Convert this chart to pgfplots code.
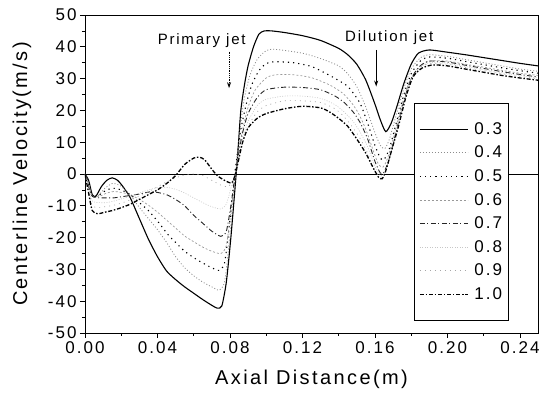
\documentclass[border=0pt]{standalone}
\usepackage{fontspec}
\setmainfont{Liberation Sans}[LetterSpace=12]
\usepackage{pgfplots}
\pgfplotsset{compat=1.18}
\usetikzlibrary{arrows.meta}

\begin{document}
\begin{tikzpicture}
\begin{axis}[
  name=ax,
  scale only axis,
  width=453pt, height=318pt,
  xmin=0, xmax=0.25, ymin=-50, ymax=50,
  xtick={0,0.04,...,0.24}, ytick={-50,-40,...,50},
  minor x tick num=1, minor y tick num=1,
  tick align=outside, tick pos=left,
  major tick length=5pt, minor tick length=3pt,
  axis line style={black, line width=0.8pt},
  every tick/.style={black, line width=0.7pt},
  /pgf/number format/assume math mode=true,
  ticklabel style={font=\fontsize{17}{18}\selectfont},
  xticklabel style={/pgf/number format/.cd, fixed, fixed zerofill, precision=2},
  yticklabel style={/pgf/number format/.cd, fixed, int detect},
  scaled x ticks=false,
  xlabel={Axial Distance(m)},
  ylabel={Centerline Velocity(m/s)},
  every axis x label/.style={at={(axis description cs:0.5,-0.145)}, anchor=center,
    font=\fontsize{20}{22}\selectfont},
  every axis y label/.style={at={(axis description cs:-0.139,0.5)}, rotate=90, anchor=center,
    font=\fontsize{20}{22}\selectfont},
  legend style={at={(axis description cs:0.726,0.723)}, anchor=north west,
    draw=black, line width=0.6pt, fill=white, inner xsep=5pt, inner ysep=14pt,
    font=\fontsize{17}{18}\selectfont,
    nodes={minimum height=23.6pt, inner sep=1pt}},
  legend cell align=left,
  legend image code/.code={\draw[#1] (0pt,0pt) -- (48pt,0pt); \path (53pt,0pt);},
]

% zero line
\addplot[black, line width=0.7pt, forget plot] coordinates {(0,0) (0.25,0)};

% 0.3
\addplot[black, line width=1.1pt, smooth, tension=0.4] coordinates {
(0,0) (0.002,-2) (0.004,-6.5) (0.006,-7) (0.009,-4) (0.012,-2) (0.015,-1.2)
(0.018,-2) (0.021,-4) (0.025,-7.5) (0.03,-14) (0.035,-20.5) (0.04,-26)
(0.045,-30.5) (0.05,-33.2) (0.055,-35.5) (0.06,-37.5) (0.065,-39.5) (0.07,-41.3)
(0.073,-42.2) (0.0755,-41.5) (0.078,-34) (0.0805,-20) (0.083,-3) (0.0845,8)
(0.086,20) (0.088,28) (0.09,34) (0.093,40) (0.096,44) (0.099,45) (0.103,45)
(0.11,44.5) (0.12,43.5) (0.13,42) (0.14,39.5) (0.145,37.5) (0.15,34.5)
(0.155,29.5) (0.16,22) (0.163,17) (0.166,13.3) (0.169,16) (0.172,21)
(0.176,28.5) (0.18,34.5) (0.184,38) (0.19,39) (0.2,38.3) (0.21,37.5)
(0.22,36.6) (0.23,35.7) (0.24,34.8) (0.25,34)};
\addlegendentry{0.3}

% 0.4
\addplot[black!45, line width=0.8pt, dash pattern=on 1pt off 2pt, smooth, tension=0.4] coordinates {
(0,0) (0.002,-3) (0.004,-7) (0.007,-7) (0.011,-4.5) (0.015,-3) (0.019,-3.5)
(0.024,-6) (0.03,-10.5) (0.035,-14) (0.04,-17.5) (0.045,-21.5) (0.05,-26)
(0.055,-29.5) (0.06,-32) (0.065,-34) (0.07,-35.5) (0.074,-36.5) (0.077,-34)
(0.0795,-22) (0.082,-6) (0.084,5) (0.086,16) (0.088,24) (0.091,31) (0.095,36)
(0.1,38.8) (0.105,39.2) (0.12,38) (0.13,36.3) (0.14,34) (0.145,31.5)
(0.15,27.5) (0.155,21) (0.16,13) (0.163,9) (0.1655,8) (0.168,11) (0.172,19)
(0.176,27) (0.18,33) (0.185,36.5) (0.19,37.5) (0.2,37) (0.21,36) (0.22,35)
(0.23,34) (0.24,33) (0.25,32.3)};
\addlegendentry{0.4}

% 0.5
\addplot[black, line width=1.1pt, dash pattern=on 1.2pt off 4pt, smooth, tension=0.4] coordinates {
(0,0) (0.002,-3) (0.004,-7) (0.008,-6.5) (0.012,-5) (0.016,-4.5) (0.02,-5)
(0.025,-6.5) (0.03,-9) (0.035,-11.5) (0.04,-14.8) (0.046,-19.2) (0.05,-21.5)
(0.055,-24.3) (0.06,-26.3) (0.065,-28) (0.07,-29.5) (0.074,-30.3) (0.077,-28)
(0.0795,-17) (0.082,-3) (0.084,6) (0.086,14) (0.089,22) (0.092,28) (0.096,32.5)
(0.1,34.7) (0.105,35.3) (0.115,35) (0.125,33.8) (0.135,31) (0.144,28)
(0.148,25.5) (0.152,22) (0.156,16) (0.16,9) (0.163,5) (0.165,4.5) (0.168,8)
(0.172,16.5) (0.176,25) (0.18,31.5) (0.185,35.5) (0.19,36.8) (0.2,36.4)
(0.21,35.4) (0.22,34.4) (0.23,33.4) (0.24,32.5) (0.25,31.7)};
\addlegendentry{0.5}

% 0.6
\addplot[black!40, line width=0.7pt, dash pattern=on 2pt off 2pt, smooth, tension=0.4] coordinates {
(0,0) (0.002,-3) (0.004,-7) (0.008,-7) (0.012,-6) (0.016,-5.5) (0.02,-5.8)
(0.025,-6.5) (0.03,-8) (0.035,-9.8) (0.04,-12) (0.045,-14.5) (0.05,-17)
(0.055,-19.5) (0.06,-21.3) (0.065,-23) (0.07,-24.3) (0.075,-25) (0.078,-22.5)
(0.0805,-12) (0.083,0) (0.085,8) (0.087,14) (0.09,21) (0.094,26.5) (0.1,30.2)
(0.105,31.2) (0.115,31.2) (0.125,30.3) (0.135,28) (0.142,25.5) (0.147,22.5)
(0.151,19) (0.155,14) (0.159,7.5) (0.162,3) (0.1645,2.2) (0.167,5) (0.171,13)
(0.175,22) (0.179,29) (0.184,33.5) (0.19,35.5) (0.2,35.5) (0.21,34.5)
(0.22,33.6) (0.23,32.6) (0.24,31.7) (0.25,31)};
\addlegendentry{0.6}

% 0.7
\addplot[black!85, line width=0.9pt, dash pattern=on 5pt off 2.5pt on 1pt off 2.5pt, smooth, tension=0.4] coordinates {
(0,0) (0.002,-4) (0.004,-7) (0.008,-7.5) (0.012,-7.5) (0.016,-7.5) (0.022,-7)
(0.03,-6.3) (0.036,-5.6) (0.04,-5.8) (0.045,-6.5) (0.05,-8) (0.055,-10)
(0.06,-13) (0.065,-15.5) (0.07,-18) (0.075,-19.6) (0.078,-18) (0.0805,-10)
(0.083,0) (0.085,7) (0.087,13) (0.09,19) (0.095,24) (0.1,26.5) (0.11,27.3)
(0.12,27.2) (0.13,26.5) (0.138,24.5) (0.143,22.5) (0.148,19.5) (0.152,16)
(0.156,11) (0.16,4) (0.163,0.3) (0.165,0.5) (0.168,5) (0.172,14) (0.176,23)
(0.18,30) (0.185,34) (0.19,35.5) (0.2,35.2) (0.21,34.2) (0.22,33.2)
(0.23,32.2) (0.24,31.3) (0.25,30.5)};
\addlegendentry{0.7}

% 0.8
\addplot[black!22, line width=0.6pt, dash pattern=on 1pt off 1.5pt, smooth, tension=0.4] coordinates {
(0,0) (0.002,-4.5) (0.004,-8.5) (0.008,-9) (0.012,-9) (0.016,-8.5) (0.022,-7.5)
(0.03,-6) (0.035,-5) (0.04,-4.3) (0.045,-4.2) (0.05,-4.8) (0.055,-6) (0.06,-7.5)
(0.065,-9) (0.07,-10.3) (0.075,-11) (0.078,-9.5) (0.0805,-4.5) (0.083,0)
(0.085,5.5) (0.087,11) (0.09,16.5) (0.095,21.5) (0.1,23.5) (0.11,24.5)
(0.12,24.5) (0.13,23.8) (0.138,21.8) (0.143,19.5) (0.148,16.5) (0.152,13)
(0.156,8.5) (0.16,2.5) (0.163,-0.3) (0.165,0) (0.168,5) (0.172,13.5)
(0.176,22.5) (0.18,29.5) (0.185,33.5) (0.19,35) (0.2,34.8) (0.21,33.8)
(0.22,32.8) (0.23,31.8) (0.24,31) (0.25,30.2)};
\addlegendentry{0.8}

% 0.9
\addplot[black!35, line width=0.7pt, dash pattern=on 1pt off 4pt, smooth, tension=0.4] coordinates {
(0,0) (0.002,-5) (0.004,-10) (0.008,-10.5) (0.012,-10.2) (0.016,-9.8)
(0.022,-8.8) (0.03,-7) (0.035,-5.6) (0.04,-4) (0.045,-2.5) (0.05,-1.2)
(0.055,-0.3) (0.06,0) (0.065,-0.5) (0.07,-2) (0.075,-3.5) (0.079,-4)
(0.081,-2.5) (0.083,0) (0.085,5) (0.087,10) (0.09,15) (0.095,19.5) (0.1,21.5)
(0.11,23) (0.12,23) (0.13,22.5) (0.138,20.5) (0.143,18) (0.148,14.5)
(0.152,11) (0.156,6.5) (0.16,1) (0.163,-1) (0.165,-0.5) (0.168,5) (0.172,13.5)
(0.176,22.5) (0.18,29.5) (0.185,33.5) (0.19,34.7) (0.2,34.5) (0.21,33.5)
(0.22,32.5) (0.23,31.5) (0.24,30.6) (0.25,30)};
\addlegendentry{0.9}

% 1.0
\addplot[black, line width=1.3pt, dash pattern=on 4pt off 1.8pt on 1.5pt off 1.8pt, smooth, tension=0.4] coordinates {
(0,0) (0.002,-6) (0.004,-11.5) (0.007,-12.5) (0.011,-12) (0.015,-11.5)
(0.019,-10.8) (0.025,-9.5) (0.03,-8) (0.035,-6.5) (0.04,-5) (0.045,-3)
(0.05,-0.5) (0.055,3) (0.06,5) (0.063,5.3) (0.066,4.5) (0.07,1.5) (0.073,-0.5)
(0.077,-2) (0.081,-2.8) (0.083,0) (0.085,5) (0.087,10) (0.09,14.5) (0.095,17.5)
(0.1,19) (0.11,20.5) (0.12,21.3) (0.13,20.8) (0.135,19.5) (0.14,17.5)
(0.145,15) (0.15,11) (0.155,6.5) (0.159,2) (0.162,-1) (0.164,-1.5) (0.166,1)
(0.169,7) (0.173,15) (0.177,24) (0.181,30.5) (0.186,33.3) (0.192,34.3)
(0.2,34) (0.21,33) (0.22,32) (0.23,31) (0.24,30.2) (0.25,29.5)};
\addlegendentry{1.0}

% annotations
\node[font=\fontsize{15}{16}\selectfont] at (axis cs:0.0644,42.1) {Primary jet};
\draw[black, line width=0.8pt, densely dotted, -{Stealth[length=6pt,width=4pt]}]
  (axis cs:0.0795,38.5) -- (axis cs:0.0795,27);
\node[font=\fontsize{15}{16}\selectfont] at (axis cs:0.1679,42.8) {Dilution jet};
\draw[black, line width=0.8pt, -{Stealth[length=6pt,width=4pt]}]
  (axis cs:0.1607,39) -- (axis cs:0.1607,27.5);
\end{axis}
\pgfresetboundingbox
\path[use as bounding box] ([shift={(-85pt,-68pt)}]ax.south west) rectangle ([shift={(1pt,15pt)}]ax.north east);
\end{tikzpicture}
\end{document}
